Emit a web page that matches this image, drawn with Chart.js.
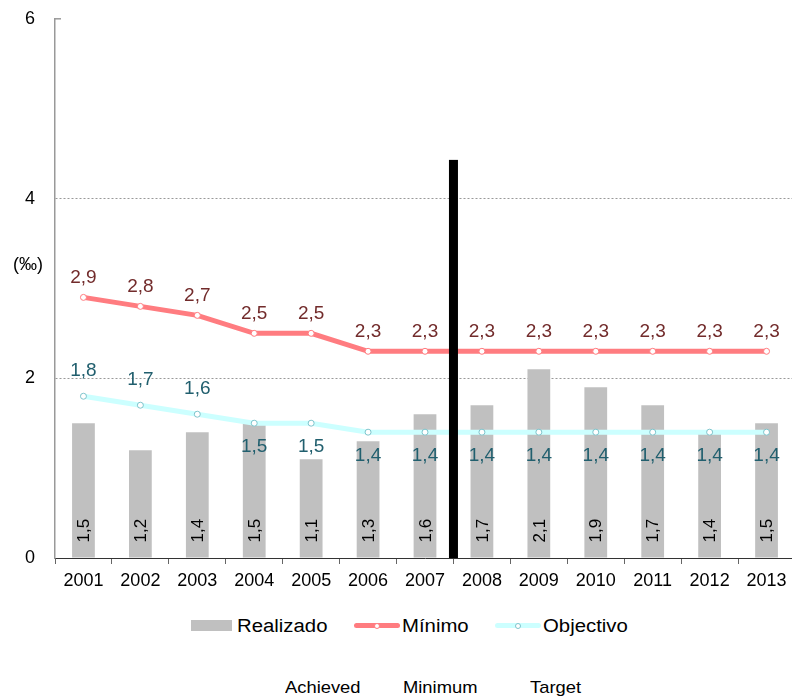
<!DOCTYPE html>
<html>
<head>
<meta charset="utf-8">
<script src="https://cdn.jsdelivr.net/npm/chart.js@4/dist/chart.umd.min.js"></script>
<style>
  html, body { margin: 0; padding: 0; background: #fff; overflow: hidden; }
  body { width: 792px; height: 699px; position: relative; font-family: 'Liberation Sans', Arial, sans-serif; }
  #chart { position: absolute; left: 0; top: -12px; }
  .leg { position: absolute; font-size: 18px; color: #000; line-height: 20px; transform: scaleX(1.13); transform-origin: left center; }
  .box { position: absolute; background: #c0c0c0; }
  .lline { position: absolute; height: 5px; border-radius: 3px; }
  .dot { position: absolute; width: 4px; height: 4px; border-radius: 50%; background: #fff; }
  .en { position: absolute; font-size: 17px; color: #000; top: 678px; transform: scaleX(1.08); transform-origin: left center; }
</style>
</head>
<body>
<canvas id="chart" width="800" height="612"></canvas>

<div class="box" style="left:191px;top:620px;width:41px;height:11px"></div>
<div class="leg" style="left:237px;top:616px">Realizado</div>
<div class="lline" style="left:354px;top:623px;width:46px;background:#ff7c80"></div>
<div class="dot" style="left:374px;top:623px;border:1px solid #ff7c80"></div>
<div class="leg" style="left:402px;top:616px">Mínimo</div>
<div class="lline" style="left:495px;top:623px;width:46px;background:#ccffff"></div>
<div class="dot" style="left:515px;top:623px;border:1px solid #7fc4cc"></div>
<div class="leg" style="left:543px;top:616px">Objectivo</div>

<div class="en" style="left:285px">Achieved</div>
<div class="en" style="left:403px">Minimum</div>
<div class="en" style="left:530px">Target</div>

<script>
'use strict';

const years = ['2001', '2002', '2003', '2004', '2005', '2006', '2007',
               '2008', '2009', '2010', '2011', '2012', '2013']
const realizado = [1.5, 1.2, 1.4, 1.5, 1.1, 1.3, 1.6, 1.7, 2.1, 1.9, 1.7, 1.4, 1.5]
const minimo = [2.9, 2.8, 2.7, 2.5, 2.5, 2.3, 2.3, 2.3, 2.3, 2.3, 2.3, 2.3, 2.3]
const objectivo = [1.8, 1.7, 1.6, 1.5, 1.5, 1.4, 1.4, 1.4, 1.4, 1.4, 1.4, 1.4, 1.4]
const yTicks = [0, 2, 4, 6]
const separatorTop = 4.43   // height of the black divider between 2007 and 2008

const fmt = v => v.toFixed(1).replace('.', ',')

Chart.defaults.font.family = "'Liberation Sans', Arial, sans-serif"
Chart.defaults.color = '#000'

const labelsPlugin = {
    id: 'valueLabels',
    afterDatasetsDraw(chart) {
        const ctx = chart.ctx
        const x = chart.scales.x
        const y = chart.scales.y

        // black divider
        const sx = (x.getPixelForValue(6) + x.getPixelForValue(7)) / 2
        const top = y.getPixelForValue(separatorTop)
        ctx.save()
        ctx.fillStyle = '#000'
        ctx.fillRect(sx - 4.5, top, 9, y.getPixelForValue(0) - top)
        ctx.restore()

        // small tick at the top of the y axis
        ctx.save()
        ctx.strokeStyle = '#999'
        ctx.lineWidth = 1.5
        ctx.beginPath()
        ctx.moveTo(y.right, y.getPixelForValue(6))
        ctx.lineTo(y.right + 6, y.getPixelForValue(6))
        ctx.stroke()
        ctx.restore()

        // bar values, rotated
        ctx.save()
        ctx.font = "17px 'Liberation Sans', Arial, sans-serif"
        ctx.fillStyle = '#000'
        chart.getDatasetMeta(0).data.forEach((bar, i) => {
            ctx.save()
            ctx.translate(bar.x + 1, bar.base - 15)
            ctx.rotate(-Math.PI / 2)
            ctx.textAlign = 'left'
            ctx.textBaseline = 'middle'
            ctx.fillText(fmt(realizado[i]), 0, 0)
            ctx.restore()
        })

        ctx.font = "19px 'Liberation Sans', Arial, sans-serif"
        ctx.textAlign = 'center'
        ctx.textBaseline = 'middle'

        ctx.fillStyle = '#722b2b'
        chart.getDatasetMeta(1).data.forEach((pt, i) => {
            ctx.fillText(fmt(minimo[i]), pt.x, pt.y - 20)
        })

        ctx.fillStyle = '#215f6e'
        chart.getDatasetMeta(2).data.forEach((pt, i) => {
            const off = i < 3 ? -25 : 24
            ctx.fillText(fmt(objectivo[i]), pt.x, pt.y + off)
        })

        // unit label
        ctx.font = "18px 'Liberation Sans', Arial, sans-serif"
        ctx.fillStyle = '#000'
        ctx.fillText('(‰)', 28, y.getPixelForValue(3.26))
        ctx.restore()
    }
}

new Chart('chart', {
    type: 'bar',
    data: {
        labels: years,
        datasets: [{
            label: 'Realizado',
            data: realizado,
            backgroundColor: '#c0c0c0',
            barPercentage: 0.4,
            categoryPercentage: 1,
            order: 3
        }, {
            type: 'line',
            label: 'Mínimo',
            data: minimo,
            borderColor: '#ff7c80',
            borderWidth: 5,
            pointRadius: 3,
            pointBorderWidth: 1,
            pointBackgroundColor: '#fff',
            pointBorderColor: '#ff7c80',
            tension: 0,
            order: 1
        }, {
            type: 'line',
            label: 'Objectivo',
            data: objectivo,
            borderColor: '#ccffff',
            borderWidth: 5,
            pointRadius: 3,
            pointBorderWidth: 1,
            pointBackgroundColor: '#fff',
            pointBorderColor: '#7fc4cc',
            tension: 0,
            order: 2
        }]
    },
    options: {
        responsive: false,
        animation: false,
        layout: { padding: { top: 6, right: 2, left: 0, bottom: 0 } },
        plugins: {
            legend: { display: false },
            tooltip: { enabled: false }
        },
        scales: {
            x: {
                afterFit: s => { s.height = 42 },
                grid: { drawOnChartArea: false, tickLength: 6, color: '#666' },
                border: { color: '#333', width: 1 },
                ticks: { font: { size: 18 }, padding: 6, maxRotation: 0, autoSkip: false }
            },
            y: {
                min: 0,
                max: 6,
                afterFit: s => { s.width = 55 },
                afterBuildTicks: s => { s.ticks = yTicks.map(v => ({ value: v })) },
                grid: {
                    drawTicks: false,
                    color: c => (c.tick && (c.tick.value === 2 || c.tick.value === 4)) ? '#999' : 'rgba(0,0,0,0)',
                    lineWidth: 1
                },
                border: { color: '#999', width: 1.5, dash: [2, 2] },
                ticks: { font: { size: 18 }, padding: 20 }
            }
        }
    },
    plugins: [labelsPlugin]
})
</script>
</body>
</html>
